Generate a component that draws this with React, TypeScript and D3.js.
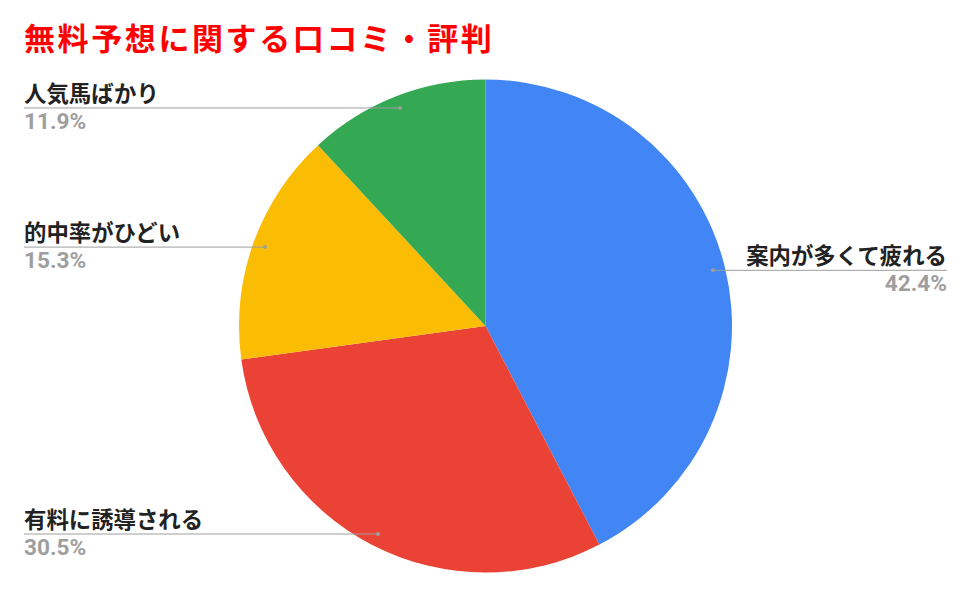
import React from "react";
import * as d3 from "d3";

const title = "無料予想に関する口コミ・評判";
const categories = ["案内が多くて疲れる", "有料に誘導される", "的中率がひどい", "人気馬ばかり"];
const values = [42.4, 30.5, 15.3, 11.9];
const colors = ["#4285f4", "#ea4335", "#fbbc04", "#34a853"];

const W = 970;
const H = 596;
const cx = 485.5;
const cy = 326;
const R = 246.5;

export default function App() {
  const pie = d3.pie<number>().sort(null).value((d) => d)(values);
  const arc = d3.arc<d3.PieArcDatum<number>>().innerRadius(0).outerRadius(R);
  const fmt = (v: number) => v.toFixed(1) + "%";
  const font = "Roboto, 'Noto Sans CJK JP', sans-serif";

  return (
    <svg width={W} height={H} style={{ position: "absolute", left: 0, top: 0, background: "#fff" }}>
      <text x={24} y={50} fill="#ff0000" fontSize={31} fontWeight="bold" letterSpacing={2.6} fontFamily={font}>
        {title}
      </text>
      <g transform={`translate(${cx},${cy})`}>
        {pie.map((p, i) => (
          <path key={i} d={arc(p) || ""} fill={colors[i]} stroke="none" />
        ))}
      </g>
      {pie.map((p, i) => {
        const mid = (p.startAngle + p.endAngle) / 2;
        const rr = R * 0.95;
        const px = cx + rr * Math.sin(mid);
        const py = cy - rr * Math.cos(mid);
        const right = Math.sin(mid) > 0;
        const x0 = right ? px : 24;
        const x1 = right ? 947 : px;
        const tx = right ? 947 : 24;
        const anchor = right ? "end" : "start";
        return (
          <g key={i}>
            <line x1={x0} y1={py} x2={x1} y2={py} stroke="#9e9e9e" strokeWidth={1} />
            <circle cx={px} cy={py} r={2} fill="#9e9e9e" />
            <text x={tx} y={py - 6} textAnchor={anchor} fontSize={22.4} fontWeight="bold" fill="#222" fontFamily={font}>
              {categories[i]}
            </text>
            <text x={tx} y={py + 21} textAnchor={anchor} fontSize={22.6} fontWeight="bold" fill="#9e9e9e" fontFamily={font}>
              {fmt(values[i])}
            </text>
          </g>
        );
      })}
    </svg>
  );
}
